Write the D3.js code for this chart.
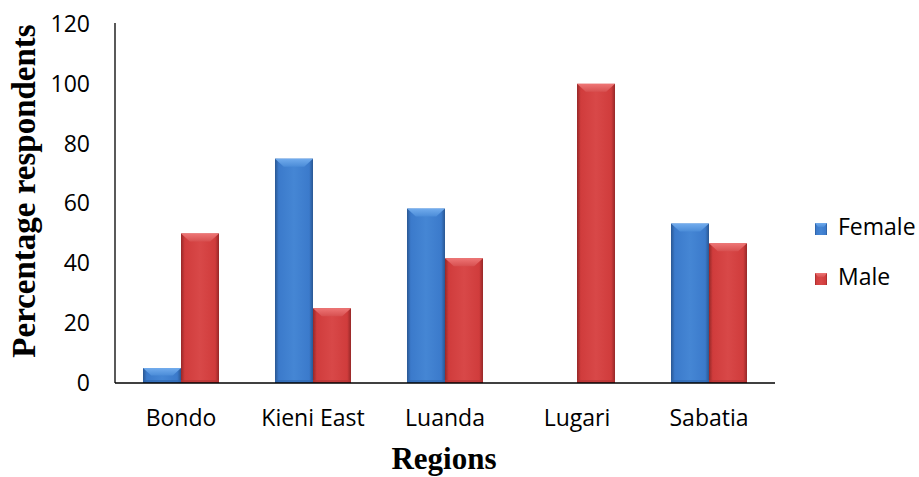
<!DOCTYPE html>
<html>
<head>
<meta charset="utf-8">
<script src="https://cdn.jsdelivr.net/npm/d3@7"></script>
<style>
  html, body { margin: 0; padding: 0; background: #fff; }
  svg { display: block; }
</style>
</head>
<body>
<script>
const categories = ["Bondo", "Kieni East", "Luanda", "Lugari", "Sabatia"];
const seriesNames = ["Female", "Male"];
const femaleValues = [5, 75, 58.3, 0, 53.3];
const maleValues = [50, 25, 41.7, 100, 46.7];
const yTicks = [0, 20, 40, 60, 80, 100, 120];

const W = 919, H = 477;
const svg = d3.select("body").append("svg").attr("width", W).attr("height", H);

const defs = svg.append("defs");
const palette = {
  Female: { edge: "#2a5792", mid: "#3b7acb", light: "#4586d4", top: "#72aced", topEdge: "#4b8cd8", bottom: "#2f66ad" },
  Male:   { edge: "#962828", mid: "#d03c3c", light: "#d84848", top: "#ee7676", topEdge: "#d75050", bottom: "#b33434" }
};
seriesNames.forEach(s => {
  const p = palette[s];
  const g = defs.append("linearGradient").attr("id", "body-" + s).attr("x1", 0).attr("x2", 1).attr("y1", 0).attr("y2", 0);
  g.append("stop").attr("offset", "0%").attr("stop-color", p.edge);
  g.append("stop").attr("offset", "10%").attr("stop-color", p.mid);
  g.append("stop").attr("offset", "50%").attr("stop-color", p.light);
  g.append("stop").attr("offset", "90%").attr("stop-color", p.mid);
  g.append("stop").attr("offset", "100%").attr("stop-color", p.edge);
  const t = defs.append("linearGradient").attr("id", "top-" + s).attr("x1", 0).attr("x2", 0).attr("y1", 0).attr("y2", 1);
  t.append("stop").attr("offset", "0%").attr("stop-color", p.top);
  t.append("stop").attr("offset", "100%").attr("stop-color", p.topEdge);
});

const x0 = d3.scaleBand().domain(categories).range([115, 775]).paddingInner(0.4242).paddingOuter(0.2121);
const x1 = d3.scaleBand().domain(seriesNames).range([0, x0.bandwidth()]);
const y = d3.scaleLinear().domain([0, 120]).range([383, 24]);

const data = categories.map((c, i) => ({ cat: c, vals: [
  { s: "Female", v: femaleValues[i] },
  { s: "Male", v: maleValues[i] }
]}));

const groups = svg.append("g").selectAll("g").data(data).join("g")
  .attr("transform", d => `translate(${x0(d.cat)},0)`);

const bars = groups.selectAll("g.bar").data(d => d.vals.filter(e => e.v > 0)).join("g").attr("class", "bar");
bars.append("rect")
  .attr("x", d => x1(d.s))
  .attr("y", d => y(d.v))
  .attr("width", x1.bandwidth())
  .attr("height", d => y(0) - y(d.v))
  .attr("fill", d => `url(#body-${d.s})`);
// top bevel facet
bars.append("path")
  .attr("d", d => {
    const xl = x1(d.s), xr = xl + x1.bandwidth(), yt = y(d.v);
    const bh = Math.min(8, (y(0) - y(d.v)) / 2), inset = Math.min(9, bh * 1.1);
    return `M${xl},${yt}L${xr},${yt}L${xr - inset},${yt + bh}L${xl + inset},${yt + bh}Z`;
  })
  .attr("fill", d => `url(#top-${d.s})`);
// bottom darker band
bars.append("rect")
  .attr("x", d => x1(d.s))
  .attr("y", d => y(0) - Math.min(3, (y(0) - y(d.v)) / 3))
  .attr("width", x1.bandwidth())
  .attr("height", d => Math.min(3, (y(0) - y(d.v)) / 3))
  .attr("fill", d => palette[d.s].bottom)
  .attr("opacity", 0.6);

// axes
const yAxis = d3.axisLeft(y).tickValues(yTicks).tickSize(0).tickPadding(25).tickFormat(d3.format("d"));
const yg = svg.append("g").attr("transform", "translate(115,0)").call(yAxis);
yg.select(".domain").attr("stroke", "#000").attr("stroke-width", 1.3).attr("d", `M0,${y(0)}V23`);
yg.selectAll("text").attr("font-family", "'Open Sans', sans-serif").attr("font-size", 23).attr("fill", "#000");

const xAxis = d3.axisBottom(x0).tickSize(0).tickPadding(27);
const xg = svg.append("g").attr("transform", `translate(0,${y(0)})`).call(xAxis);
xg.select(".domain").attr("stroke", "#000").attr("stroke-width", 1.3).attr("d", "M115,0H775");
xg.selectAll("text").attr("font-family", "'Open Sans', sans-serif").attr("font-size", 23).attr("fill", "#000");

// axis titles
svg.append("text")
  .attr("transform", "translate(35,191) rotate(-90)")
  .attr("text-anchor", "middle")
  .attr("font-family", "'Liberation Serif', 'Times New Roman', serif")
  .attr("font-weight", "bold").attr("font-size", 33)
  .text("Percentage respondents");
svg.append("text")
  .attr("x", 444).attr("y", 469)
  .attr("text-anchor", "middle")
  .attr("font-family", "'Liberation Serif', 'Times New Roman', serif")
  .attr("font-weight", "bold").attr("font-size", 31)
  .text("Regions");

// legend
const legend = svg.append("g").selectAll("g").data(seriesNames).join("g")
  .attr("transform", (d, i) => `translate(815,${223 + i * 50})`);
legend.append("rect").attr("width", 12).attr("height", 12).attr("fill", d => `url(#body-${d})`);
legend.append("path").attr("d", "M0,0L12,0L9,4L3,4Z").attr("fill", d => `url(#top-${d})`);
legend.append("text").attr("x", 23).attr("y", 12)
  .attr("font-family", "'Open Sans', sans-serif").attr("font-size", 23).attr("fill", "#000")
  .text(d => d);
</script>
</body>
</html>
